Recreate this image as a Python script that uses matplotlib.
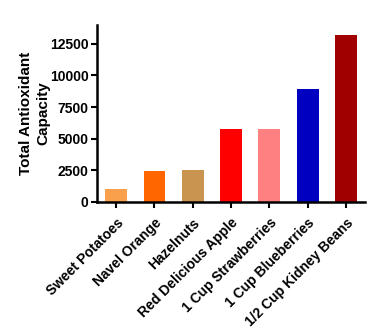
import matplotlib
matplotlib.use("Agg")
import matplotlib.pyplot as plt

# -----------------------------------------------------
# Data
# -----------------------------------------------------
foods = [
    "Sweet Potatoes", "Navel Orange", "Hazelnuts", "Red Delicious Apple",
    "1 Cup Strawberries", "1 Cup Blueberries", "1/2 Cup Kidney Beans",
]
capacity = [1000, 2420, 2550, 5790, 5790, 8890, 13190]
colors = ["#F9A04C", "#FF6600", "#C8944F", "#FF0000", "#FF8080", "#0000C0", "#A00000"]

plt.rcParams["font.family"] = ["Liberation Sans", "DejaVu Sans"]

fig = plt.figure(figsize=(3.73, 3.32), dpi=100)
ax = fig.add_axes([0.260, 0.392, 0.719, 0.533])

x = range(len(foods))
ax.bar(x, capacity, width=0.57, color=colors)

ax.set_xlim(-0.5, 6.5)
ax.set_ylim(0, 14000)
ax.set_yticks([0, 2500, 5000, 7500, 10000, 12500])
ax.set_xticks(list(x))
ax.set_xticklabels(foods, rotation=45, ha="right", rotation_mode="anchor",
                   fontsize=10, fontweight="bold")
for lab in ax.get_yticklabels():
    lab.set_fontweight("bold")
    lab.set_fontsize(10)

ax.set_ylabel("Total Antioxidant\nCapacity", fontsize=11, fontweight="bold",
              linespacing=1.25, labelpad=0)

for side in ["top", "right"]:
    ax.spines[side].set_visible(False)
for side in ["left", "bottom"]:
    ax.spines[side].set_linewidth(1.8)
ax.tick_params(width=1.5, length=4, pad=2)
ax.tick_params(axis="x", pad=6)

fig.savefig("out.png", dpi=100)
